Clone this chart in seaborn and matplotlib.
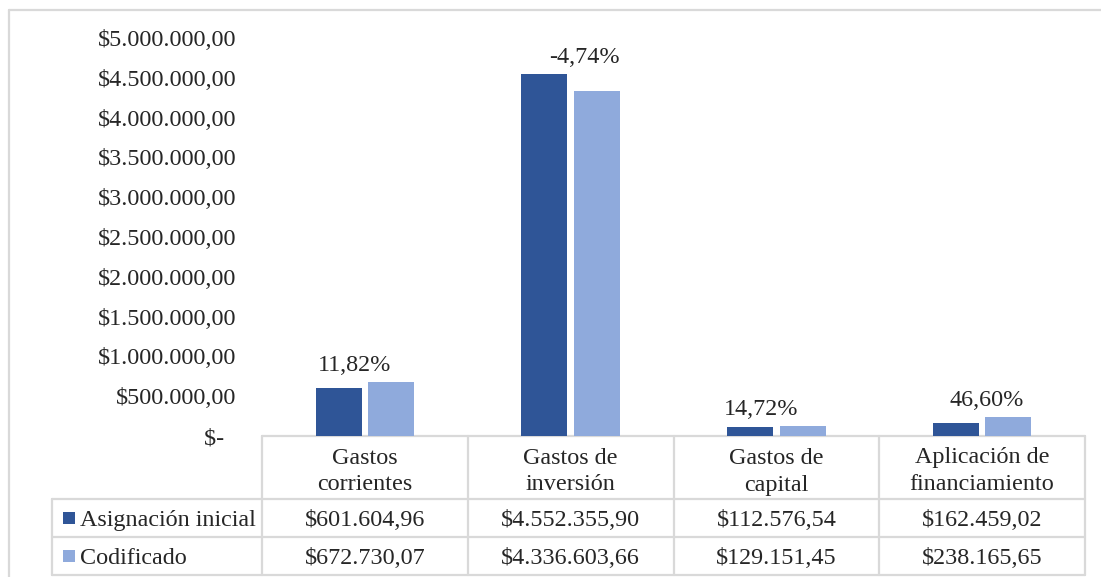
import matplotlib
matplotlib.use("Agg")
import matplotlib.pyplot as plt
import seaborn as sns
import pandas as pd
from matplotlib.lines import Line2D
from matplotlib.patches import Rectangle

# ---------------- data ----------------
categories = ["Gastos\ncorrientes", "Gastos de\ninversión", "Gastos de\ncapital", "Aplicación de\nfinanciamiento"]
series_names = ["Asignación inicial", "Codificado"]
asignacion_inicial = [601604.96, 4552355.90, 112576.54, 162459.02]
codificado = [672730.07, 4336603.66, 129151.45, 238165.65]
pct_labels = ["11,82%", "-4,74%", "14,72%", "46,60%"]
yticks = [0, 500000, 1000000, 1500000, 2000000, 2500000, 3000000, 3500000, 4000000, 4500000, 5000000]

# ---------------- style ----------------
DARK = "#2F5597"
LIGHT = "#8FAADC"
GRID = "#D9D9D9"
FS = 17.4
label_dx = [-0.05, 0.065, -0.075, 0.02]   # layout nudges of the % labels (category units)

sns.set_style("white")
plt.rcParams["font.family"] = ["Liberation Serif", "DejaVu Serif"]


def money(v):
    s = f"{v:,.2f}"
    s = s.replace(",", "X").replace(".", ",").replace("X", ".")
    return "$" + s


W, H = 1101, 577
fig = plt.figure(figsize=(W / 100, H / 100), dpi=100)
fig.patch.set_facecolor("white")

# main axes
ax_l, ax_r, ax_b, ax_t = 262, 1085, 436, 38
ax = fig.add_axes([ax_l / W, (H - ax_b) / H, (ax_r - ax_l) / W, (ax_b - ax_t) / H])

df = pd.DataFrame({
    "cat": categories * 2,
    "serie": [series_names[0]] * 4 + [series_names[1]] * 4,
    "valor": asignacion_inicial + codificado,
})
sns.barplot(data=df, x="cat", y="valor", hue="serie", palette=[DARK, LIGHT],
            width=0.51, gap=0.12, saturation=1, linewidth=0, legend=False, ax=ax,
            errorbar=None)

ax.set_xlim(-0.5, len(categories) - 0.5)
ax.set_ylim(0, 5000000)
ax.set_yticks(yticks)
ax.set_yticklabels(["$-  " if v == 0 else money(v) for v in yticks], fontsize=FS)
ax.set_xticks([])
ax.set_xlabel("")
ax.set_ylabel("")
ax.tick_params(axis="y", length=0, pad=18.5)
for sp in ax.spines.values():
    sp.set_visible(False)
ax.patch.set_alpha(0)

# percentage labels
for i, lab in enumerate(pct_labels):
    top = max(asignacion_inicial[i], codificado[i])
    ax.annotate(lab, (i + label_dx[i], top), xytext=(0, 11), textcoords="offset pixels",
                ha="center", va="baseline", fontsize=FS)

# ---------------- overlay (table + border) in pixel coords ----------------
ov = fig.add_axes([0, 0, 1, 1], zorder=-1)
ov.set_xlim(0, W)
ov.set_ylim(H, 0)
ov.axis("off")

# outer chart border
ov.add_line(Line2D([9, W + 5], [10, 10], color=GRID, lw=1.6))
ov.add_line(Line2D([9, 9], [10, H + 5], color=GRID, lw=1.6))

fig.canvas.draw()
to_px = ax.transData
col_edges = []
for k in range(len(categories) + 1):
    xp, _ = to_px.transform((k - 0.5, 0))
    col_edges.append(xp)

y_head_top, y_row1, y_row2, y_bot = 436, 499, 537, 575
x_leg = 52
lw = 1.6
# horizontal lines
ov.add_line(Line2D([col_edges[0], col_edges[-1]], [y_head_top, y_head_top], color=GRID, lw=lw))
for yy in (y_row1, y_row2, y_bot):
    ov.add_line(Line2D([x_leg, col_edges[-1]], [yy, yy], color=GRID, lw=lw))
# vertical lines
for xe in col_edges:
    ov.add_line(Line2D([xe, xe], [y_head_top, y_bot], color=GRID, lw=lw))
ov.add_line(Line2D([x_leg, x_leg], [y_row1, y_bot], color=GRID, lw=lw))

# header texts (one text per line, explicit baselines)
for k, c in enumerate(categories):
    xc = (col_edges[k] + col_edges[k + 1]) / 2
    for j, line in enumerate(c.split("\n")):
        ov.text(xc, 463.5 + 27 * j, line, ha="center", va="baseline", fontsize=FS)

# rows
rows = [(series_names[0], DARK, asignacion_inicial, y_row1, y_row2),
        (series_names[1], LIGHT, codificado, y_row2, y_bot)]
for name, col, vals, y0, y1 in rows:
    yc = (y0 + y1) / 2
    ov.add_patch(Rectangle((63, yc - 6), 12, 12, color=col, lw=0))
    ov.text(80, yc + 8, name, ha="left", va="baseline", fontsize=FS)
    for k, v in enumerate(vals):
        xc = (col_edges[k] + col_edges[k + 1]) / 2
        ov.text(xc, yc + 8, money(v), ha="center", va="baseline", fontsize=FS)

fig.savefig("out.png", dpi=100, facecolor="white")
